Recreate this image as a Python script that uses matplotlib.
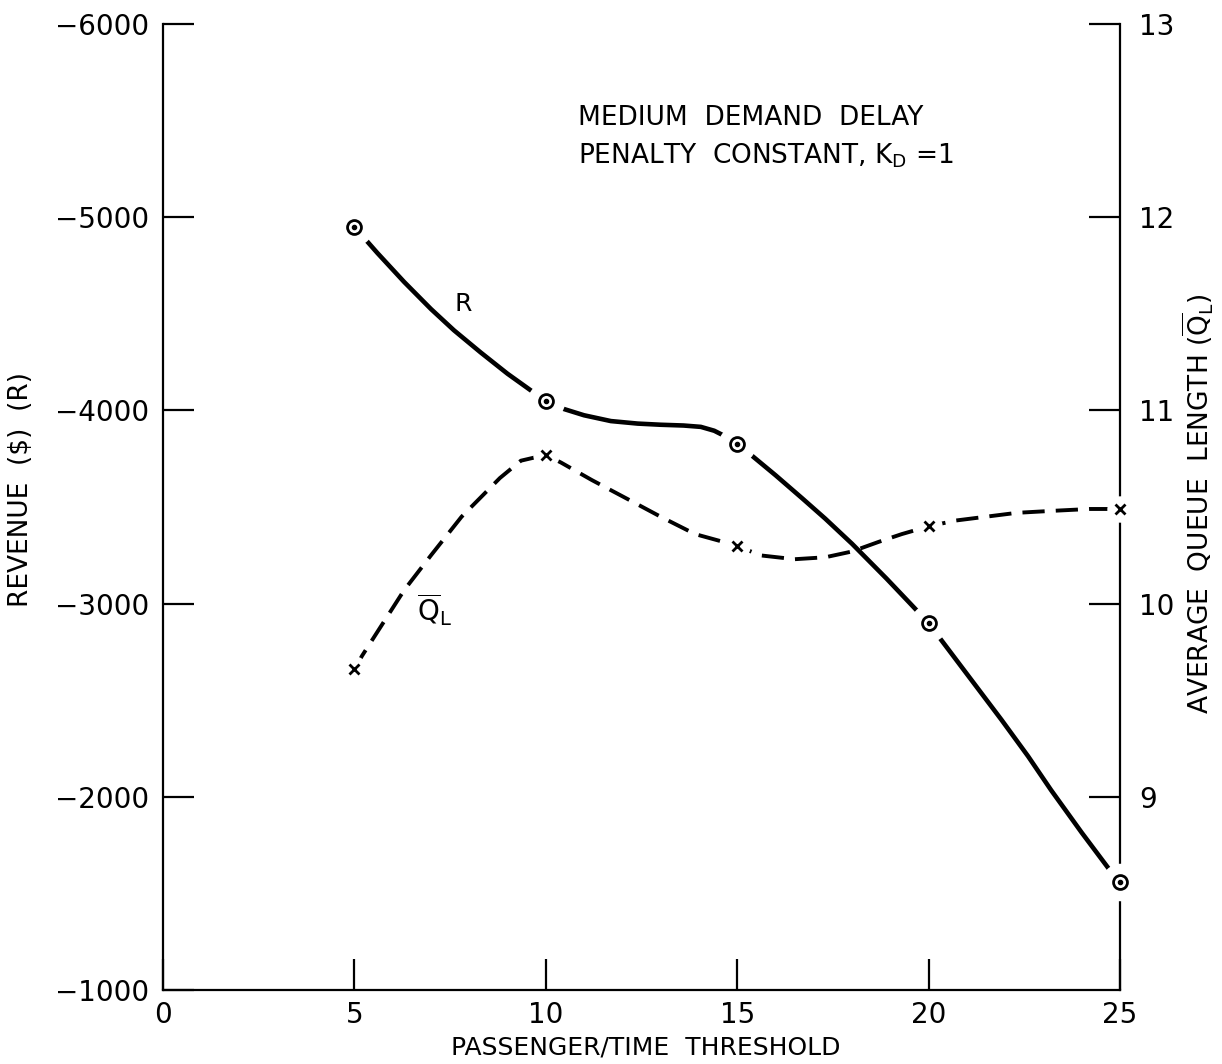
import numpy as np
import matplotlib
matplotlib.use("Agg")
import matplotlib.pyplot as plt

plt.rcParams['font.family'] = ['DejaVu Sans']
plt.rcParams['lines.scale_dashes'] = False

# data
thresh = [5, 10, 15, 20, 25]
revenue = [-4950, -4050, -3825, -2900, -1560]
queue = [9.66, 10.77, 10.30, 10.40, 10.49]

# hand-drawn curve traces
r_curve_x = [5, 5.6, 6.3, 7.0, 7.6, 8.3, 9.0, 9.6, 10, 10.4, 11.0, 11.7, 12.4, 13.0, 13.6,
             14.05, 14.4, 14.7, 15, 15.3, 16.0, 16.7, 17.3, 18.0, 18.9, 19.5, 20,
             20.3, 21.1, 21.9, 22.6, 23.2, 24.0, 24.7, 25]
r_curve_y = [-4950, -4815, -4665, -4525, -4415, -4300, -4190, -4105, -4050, -4012, -3975,
             -3945, -3932, -3926, -3922, -3915, -3895, -3865, -3825, -3780, -3665, -3545,
             -3440, -3310, -3130, -3005, -2900, -2820, -2610, -2400, -2210, -2035, -1815,
             -1630, -1560]
q_curve_x = [5, 5.2, 6.3, 7.0, 7.8, 8.8, 9.35, 10, 10.4, 11.2, 12.15, 13.0, 13.9, 15,
             15.6, 16.5, 17.3, 18.0, 18.7, 19.3, 20, 20.7, 21.5, 22.3, 23.2, 24.2, 25]
q_curve_y = [9.66, 9.73, 10.07, 10.25, 10.45, 10.65, 10.74, 10.77, 10.73, 10.64, 10.54,
             10.45, 10.36, 10.30, 10.25, 10.23, 10.24, 10.27, 10.32, 10.36, 10.40, 10.43,
             10.45, 10.47, 10.48, 10.49, 10.49]

left_ticks = [-6000, -5000, -4000, -3000, -2000, -1000]
right_ticks = [9, 10, 11, 12, 13]
x_ticks = [0, 5, 10, 15, 20, 25]

fig = plt.figure(figsize=(12.22, 10.64), dpi=100)
ax = fig.add_axes([0.1334, 0.0695, 0.7831, 0.9079])
ax2 = ax.twinx()

ax.set_xlim(0, 25)
ax.set_ylim(-1000, -6000)
ax2.set_ylim(8, 13)

for s in ['left', 'bottom', 'right']:
    ax.spines[s].set_linewidth(1.6)
ax.spines['top'].set_visible(False)
for s in ax2.spines.values():
    s.set_visible(False)

ax.set_xticks(x_ticks)
ax.set_yticks(left_ticks)
ax2.set_yticks(right_ticks)
ax.tick_params(axis='x', direction='in', length=22, width=1.6, labelsize=20, pad=8)
ax.tick_params(axis='y', direction='in', length=22, width=1.6, labelsize=20, pad=10)
ax2.tick_params(axis='y', direction='in', length=22, width=1.6, labelsize=20, pad=14)

# R curve
ax.plot(r_curve_x, r_curve_y, color='black', lw=3.3, zorder=2, solid_capstyle='butt')
ax.plot(thresh, revenue, 'o', ms=27, mfc='white', mec='none', zorder=5, clip_on=False)
ax.plot(thresh, revenue, 'o', ms=10, mfc='white', mec='black', mew=2, zorder=6, clip_on=False)
ax.plot(thresh, revenue, 'o', ms=3, color='black', zorder=7, clip_on=False)

# Q curve
ax2.plot(q_curve_x, q_curve_y, color='black', lw=2.8, dashes=[16, 8], zorder=2,
         dash_capstyle='butt')
ax2.plot(thresh, queue, 'o', ms=19, mfc='white', mec='none', zorder=5, clip_on=False)
ax2.plot(thresh, queue, 'x', ms=7, color='black', mew=2, zorder=6, clip_on=False)

ax.set_xlabel('PASSENGER/TIME  THRESHOLD', fontsize=18)
ax.xaxis.set_label_coords(0.504, -0.047)
ax.set_ylabel('REVENUE  ($)  (R)', fontsize=19)
ax.yaxis.set_label_coords(-0.135, 0.518)
ax2.set_ylabel(r'AVERAGE  QUEUE  LENGTH ($\overline{\mathrm{Q}}_\mathrm{L}$)', fontsize=19)
ax2.yaxis.set_label_coords(1.064, 0.504)

ax.text(0.434, 0.903, 'MEDIUM  DEMAND  DELAY', transform=ax.transAxes,
        fontsize=19, va='center', ha='left')
ax.text(0.434, 0.864, r'PENALTY  CONSTANT, K$_\mathrm{D}$ =1', transform=ax.transAxes,
        fontsize=19, va='center', ha='left')

ax.text(7.84, -4549, 'R', fontsize=18, ha='center', va='center')
ax2.text(7.1, 9.97, r'$\overline{\mathrm{Q}}_\mathrm{L}$', fontsize=20, ha='center', va='center')

fig.savefig('out.png', dpi=100)
